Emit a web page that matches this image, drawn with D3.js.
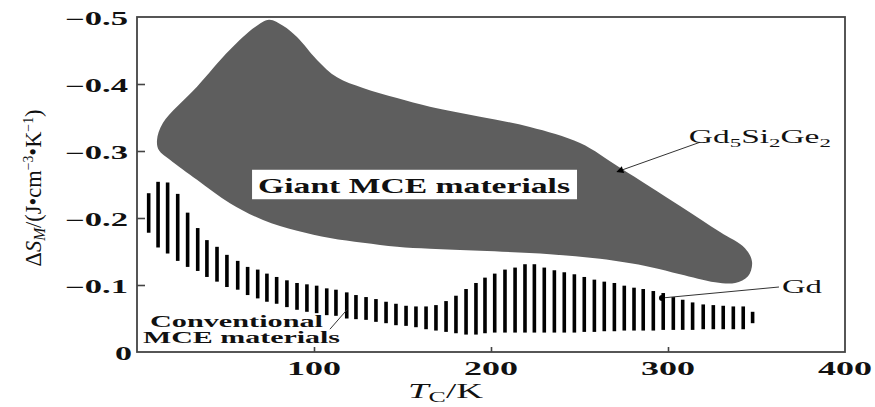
<!DOCTYPE html>
<html><head><meta charset="utf-8">
<script src="https://cdn.jsdelivr.net/npm/d3@7"></script>
<style>body{margin:0;background:#fff}svg{display:block}text{font-family:"Liberation Serif","Times New Roman",serif;fill:#111}</style>
</head><body><svg id="c" width="875" height="407"></svg>
<script>
// Conventional MCE materials: vertical bars (T_C in K, top and bottom of ΔS_M range)
const barT = [6.6,11.9,17.3,23.0,28.6,34.3,39.5,45.2,50.8,56.9,62.5,68.2,73.4,78.9,84.7,90.4,96.0,101.5,107.2,112.4,
  118.5,123.7,129.4,135.0,140.7,146.3,152.0,157.6,163.3,168.9,174.6,180.2,185.9,191.5,196.6,202.1,207.9,213.6,219.2,224.5,
  230.1,235.8,241.4,247.1,252.7,258.4,264.0,269.7,275.3,280.8,286.0,291.7,297.3,303.0,308.3,313.9,319.9,325.6,331.2,336.9,342.5,347.8];
const barTop = [-0.237,-0.254,-0.253,-0.236,-0.208,-0.185,-0.167,-0.157,-0.145,-0.136,
  -0.127,-0.123,-0.117,-0.112,-0.107,-0.103,-0.101,-0.099,-0.095,-0.093,
  -0.089,-0.085,-0.082,-0.079,-0.075,-0.072,-0.069,-0.068,-0.068,-0.070,
  -0.076,-0.084,-0.094,-0.103,-0.111,-0.117,-0.123,-0.126,-0.131,-0.131,
  -0.126,-0.122,-0.119,-0.116,-0.112,-0.108,-0.105,-0.103,-0.099,-0.096,
  -0.094,-0.091,-0.088,-0.082,-0.078,-0.074,-0.071,-0.070,-0.069,-0.068,-0.068,-0.060];
const barBottom = [-0.178,-0.156,-0.147,-0.136,-0.127,-0.121,-0.112,-0.105,-0.097,-0.093,
  -0.085,-0.080,-0.075,-0.072,-0.067,-0.063,-0.060,-0.058,-0.055,-0.054,
  -0.050,-0.049,-0.048,-0.045,-0.043,-0.040,-0.039,-0.037,-0.034,-0.032,
  -0.030,-0.028,-0.026,-0.026,-0.028,-0.029,-0.029,-0.029,-0.029,-0.029,
  -0.029,-0.029,-0.029,-0.029,-0.030,-0.030,-0.031,-0.031,-0.032,-0.032,
  -0.032,-0.032,-0.033,-0.033,-0.033,-0.033,-0.034,-0.034,-0.034,-0.034,-0.034,-0.043];
// Giant MCE materials region outline (T_C, ΔS_M)
const giantT = [11.3,14.7,33.9,52.5,66.7,74.6,82.5,90.4,101.7,113.0,127.7,146.9,165.5,193.8,222.0,250.3,272.9,306.8,329.4,343.5,347.5,345.2,337.9,326.6,306.8,289.8,261.6,233.3,193.8,165.5,146.9,127.7,109.0,90.4,71.2,52.5,33.9,18.6,12.4];
const giantS = [-0.316,-0.342,-0.396,-0.451,-0.485,-0.496,-0.487,-0.470,-0.436,-0.410,-0.394,-0.379,-0.366,-0.351,-0.336,-0.312,-0.275,-0.218,-0.179,-0.155,-0.134,-0.113,-0.103,-0.104,-0.116,-0.127,-0.139,-0.146,-0.151,-0.154,-0.157,-0.163,-0.170,-0.181,-0.197,-0.222,-0.257,-0.287,-0.301];
const yTicks = [0,-0.1,-0.2,-0.3,-0.4,-0.5];
const yTickLabels = ["0","\u22120.1","\u22120.2","\u22120.3","\u22120.4","\u22120.5"];
const xTicks = [100,200,300,400];
const xTickLabels = ["100","200","300","400"];
// Gd point
const gdT = 296.6, gdS = -0.0806;

const svg = d3.select("#c");
const x = d3.scaleLinear().domain([0,400]).range([137,845]);
const y = d3.scaleLinear().domain([0,-0.5]).range([352,17]);

// giant region
const pts = giantT.map((t,i)=>[x(t), y(giantS[i])]);
svg.append("path").attr("d", d3.line().curve(d3.curveCatmullRomClosed.alpha(0.5))(pts))
  .attr("fill","#5e5e5e");

// bars
svg.append("g").selectAll("rect").data(barT).join("rect")
  .attr("x", d=>x(d)-1.8).attr("width",3.6)
  .attr("y",(d,i)=>y(barTop[i])).attr("height",(d,i)=>y(barBottom[i])-y(barTop[i]))
  .attr("fill","#000");

// frame
svg.append("rect").attr("x",x(0)).attr("y",y(-0.5)).attr("width",x(400)-x(0)).attr("height",y(0)-y(-0.5))
  .attr("fill","none").attr("stroke","#444").attr("stroke-width",1.8);

// axes ticks (inward)
const ya = svg.append("g").attr("transform",`translate(${x(0)},0)`)
  .call(d3.axisLeft(y).tickValues(yTicks.slice(1,5)).tickSize(-8).tickFormat(""));
const xa = svg.append("g").attr("transform",`translate(0,${y(0)})`)
  .call(d3.axisBottom(x).tickValues(xTicks.slice(0,3)).tickSize(-5).tickFormat(""));
[ya,xa].forEach(a=>{a.select(".domain").remove(); a.selectAll("line").attr("stroke","#444").attr("stroke-width",1.6);});

function stext(px, py, fs, weight, len, parts){
  const t = svg.append("text").attr("x",px).attr("y",py).attr("font-size",fs)
    .attr("font-weight",weight).attr("textLength",len).attr("lengthAdjust","spacingAndGlyphs");
  parts.forEach(p=>{
    const s = t.append("tspan").text(p.t);
    if(p.dy) s.attr("dy",p.dy);
    if(p.fs) s.attr("font-size",p.fs);
    if(p.it) s.attr("font-style","italic");
  });
  return t;
}

// y tick labels
yTicks.forEach((v,i)=>{
  const w = v===0 ? 17 : 63;
  const right = v===0 ? 132 : 128;
  stext(right-w, y(v)+8, 18, "bold", w, [{t:yTickLabels[i]}]);
});
// x tick labels
xTicks.forEach((v,i)=>{
  stext(x(v)-27, 375, 19, "bold", 54, [{t:xTickLabels[i]}]);
});

// x title
stext(408, 398, 20, "normal", 75, [{t:"T",it:true},{t:"C",fs:14,dy:4},{t:"/K",dy:-4}]);

// y title (rotated)
const yt = svg.append("text").attr("transform","translate(41,188) scale(1.75,1) rotate(-90)")
  .attr("x",-78.5).attr("y",0).attr("font-size",13).attr("textLength",157).attr("lengthAdjust","spacingAndGlyphs");
[{t:"\u0394"},{t:"S",it:true},{t:"M",it:true,fs:9,dy:2.5},{t:"/(J\u2022cm",dy:-2.5},{t:"\u22123",fs:8,dy:-4.5},{t:"\u2022K",dy:4.5},{t:"\u22121",fs:8,dy:-4.5},{t:")",dy:4.5}]
 .forEach(p=>{const s=yt.append("tspan").text(p.t); if(p.dy) s.attr("dy",p.dy); if(p.fs) s.attr("font-size",p.fs); if(p.it) s.attr("font-style","italic");});

// Giant MCE materials label box
svg.append("rect").attr("x",x(65)).attr("y",y(-0.272)).attr("width",x(248.6)-x(65)).attr("height",y(-0.228)-y(-0.272))
  .attr("fill","#fff");
stext(x(68.4), y(-0.237), 22, "bold", 312, [{t:"Giant MCE materials"}]);

// Gd5Si2Ge2 annotation
const defs = svg.append("defs");
defs.append("marker").attr("id","ah").attr("viewBox","0 0 10 10").attr("refX",9).attr("refY",5)
  .attr("markerWidth",9).attr("markerHeight",7).attr("orient","auto").attr("markerUnits","userSpaceOnUse")
  .append("path").attr("d","M0,0L10,5L0,10Z").attr("fill","#000");
svg.append("line").attr("x1",x(318)).attr("y1",y(-0.313)).attr("x2",x(271.2)).attr("y2",y(-0.269))
  .attr("stroke","#333").attr("stroke-width",1).attr("marker-end","url(#ah)");
stext(x(311.8), y(-0.312), 19, "normal", 142, [{t:"Gd"},{t:"5",fs:13,dy:4},{t:"Si",dy:-4},{t:"2",fs:13,dy:4},{t:"Ge",dy:-4},{t:"2",fs:13,dy:4}]);

// Gd annotation
svg.append("line").attr("x1",x(362.7)).attr("y1",y(-0.097)).attr("x2",x(gdT)).attr("y2",y(gdS))
  .attr("stroke","#333").attr("stroke-width",1);
svg.append("circle").attr("cx",x(gdT)).attr("cy",y(gdS)).attr("r",3).attr("fill","#000");
stext(x(364.4), y(-0.088), 19, "normal", 40, [{t:"Gd"}]);

// Conventional MCE materials
svg.append("line").attr("x1",x(109)).attr("y1",y(-0.034)).attr("x2",x(118.6)).attr("y2",y(-0.063))
  .attr("stroke","#333").attr("stroke-width",1);
stext(150, 327, 16, "bold", 173, [{t:"Conventional"}]);
stext(143, 343, 16, "bold", 197, [{t:"MCE materials"}]);
</script></body></html>
